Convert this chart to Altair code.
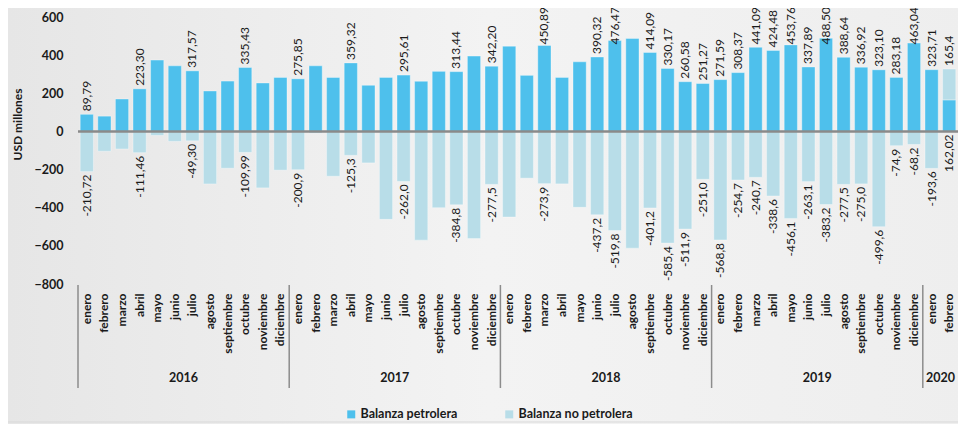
import altair as alt
import pandas as pd

MESES = ["enero", "febrero", "marzo", "abril", "mayo", "junio", "julio",
         "agosto", "septiembre", "octubre", "noviembre", "diciembre"]
ANIOS = [2016, 2017, 2018, 2019, 2020]
N_MESES = [12, 12, 12, 12, 2]

SERIES = ["Balanza petrolera", "Balanza no petrolera"]
COLORES = ["#4EC0EC", "#B8DDE8"]

PETRO = [
    89.79, 80, 170, 223.30, 374, 344, 317.57, 212, 264, 335.43, 254, 283,
    275.85, 344, 283, 359.32, 242, 283, 295.61, 263, 315, 313.44, 395, 342.20,
    447, 294, 450.89, 283, 365, 390.32, 476.47, 487, 414.09, 330.17, 260.58, 251.27,
    271.59, 308.37, 441.09, 424.48, 453.76, 337.89, 488.50, 388.64, 336.92, 323.10, 283.18, 463.04,
    323.71, 165.4,
]
NO_PETRO = [
    -210.72, -104, -92, -111.46, -21, -52, -49.30, -275, -193, -109.99, -296, -203,
    -200.9, -9, -235, -125.3, -165, -461, -262.0, -570, -400, -384.8, -562, -277.5,
    -449, -245, -273.9, -275, -398, -437.2, -519.8, -612, -401.2, -585.4, -511.9, -251.0,
    -568.8, -254.7, -240.7, -338.6, -456.1, -263.1, -383.2, -277.5, -275.0, -499.6, -74.9, -68.2,
    -193.6, 162.02,
]
PETRO_LBL = [
    "89,79", None, None, "223,30", None, None, "317,57", None, None, "335,43", None, None,
    "275,85", None, None, "359,32", None, None, "295,61", None, None, "313,44", None, "342,20",
    None, None, "450,89", None, None, "390,32", "476,47", None, "414,09", "330,17", "260,58", "251,27",
    "271,59", "308,37", "441,09", "424,48", "453,76", "337,89", "488,50", "388,64", "336,92", "323,10", "283,18", "463,04",
    "323,71", "165,4",
]
NO_PETRO_LBL = [
    "-210,72", None, None, "-111,46", None, None, "-49,30", None, None, "-109,99", None, None,
    "-200,9", None, None, "-125,3", None, None, "-262,0", None, None, "-384,8", None, "-277,5",
    None, None, "-273,9", None, None, "-437,2", "-519,8", None, "-401,2", "-585,4", "-511,9", "-251,0",
    "-568,8", "-254,7", "-240,7", "-338,6", "-456,1", "-263,1", "-383,2", "-277,5", "-275,0", "-499,6", "-74,9", "-68,2",
    "-193,6", "162,02",
]

# ---- build tables ----
claves = []
for anio, n in zip(ANIOS, N_MESES):
    for m in MESES[:n]:
        claves.append(f"{m} {anio}")

rows = []
for i, c in enumerate(claves):
    rows.append({"clave": c, "serie": SERIES[0], "valor": PETRO[i], "orden": 0})
    rows.append({"clave": c, "serie": SERIES[1], "valor": NO_PETRO[i], "orden": 1})
df = pd.DataFrame(rows)

TOPE = 440  # keep top labels inside the picture
lbl_p = pd.DataFrame([
    {"clave": c, "texto": PETRO_LBL[i],
     "anc": min(PETRO[i] + max(NO_PETRO[i], 0), TOPE)}
    for i, c in enumerate(claves) if PETRO_LBL[i]
])
lbl_n = pd.DataFrame([
    {"clave": c, "texto": NO_PETRO_LBL[i], "anc": min(NO_PETRO[i], 0)}
    for i, c in enumerate(claves) if NO_PETRO_LBL[i]
])

sep = pd.DataFrame([{"clave": f"enero {a}"} for a in ANIOS])
anios_df = pd.DataFrame([
    {"anio": str(a), "clave": f"{MESES[n // 2 - 1]} {a}"} for a, n in zip(ANIOS, N_MESES)
])

W, H = 880, 267
FONT = "Lato"
TXT = "#1a1a1a"

xs = alt.Scale(paddingInner=0, paddingOuter=0)
ys = alt.Scale(domain=[-800, 600], nice=False)

x_axis = alt.Axis(labelExpr="split(datum.value, ' ')[0]", labelAngle=270,
                  labelAlign="right", labelBaseline="middle", labelPadding=9,
                  ticks=False, domain=False, labelOverlap=False, zindex=2,
                  labelFont=FONT, labelFontSize=12, labelFontWeight="bold",
                  labelColor=TXT)
y_axis = alt.Axis(values=[-800, -600, -400, -200, 0, 200, 400, 600],
                  grid=False, ticks=False, domain=False, labelPadding=15, zindex=2,
                  labelFont=FONT, labelFontSize=12.5, labelFontWeight="bold",
                  labelColor=TXT, titleFont=FONT, titleFontSize=12,
                  titleFontWeight="bold", titleColor=TXT, titleAngle=270,
                  titleX=-61, titleY=107, titleAlign="center",
                  titleBaseline="middle")


def mk_x(band=None):
    if band is None:
        return alt.X("clave:N", sort=claves, scale=xs, title=None, axis=x_axis)
    return alt.X("clave:N", sort=claves, scale=xs, title=None, axis=x_axis,
                 bandPosition=band)


def mk_y(field, **kw):
    return alt.Y(f"{field}:Q", scale=ys, title="USD millones", axis=y_axis, **kw)


fondo = alt.Chart(pd.DataFrame({"a": [0]})).mark_rect(
    color=alt.Gradient(
        gradient="linear",
        stops=[alt.GradientStop(color="#e6e6e6", offset=0),
               alt.GradientStop(color="#f3f3f3", offset=0.5),
               alt.GradientStop(color="#eeeeee", offset=1)],
        x1=0, x2=1, y1=0, y2=0,
    )
).encode(x=alt.value(-70), x2=alt.value(W + 10), y=alt.value(-9), y2=alt.value(H + 140))

barras = alt.Chart(df).mark_bar(
    width=alt.RelativeBandSize(0.75), stroke="white", strokeOpacity=0.35, strokeWidth=1
).encode(
    x=mk_x(),
    y=mk_y("valor", stack="zero"),
    color=alt.Color("serie:N", scale=alt.Scale(domain=SERIES, range=COLORES),
                    legend=alt.Legend(orient="none", legendX=267, legendY=391,
                                      direction="horizontal", title=None,
                                      symbolType="square", symbolSize=64,
                                      symbolStrokeWidth=0, labelFont=FONT,
                                      labelFontSize=12.5, labelFontWeight="bold",
                                      labelColor=TXT, columnPadding=45, labelOffset=3,
                                      zindex=2)),
    order=alt.Order("orden:Q"),
)

cero = alt.Chart(pd.DataFrame({"y": [0]})).mark_rule(color="#8a8a8a", strokeWidth=2.5).encode(
    y=mk_y("y"), x=alt.value(0), x2=alt.value(W)
)

etq_p = alt.Chart(lbl_p).mark_text(
    angle=270, align="left", baseline="middle", dx=3, font=FONT, fontSize=12, color=TXT
).encode(x=mk_x(), y=mk_y("anc"), text="texto:N")

etq_n = alt.Chart(lbl_n).mark_text(
    angle=270, align="right", baseline="middle", dx=-3, font=FONT, fontSize=12, color=TXT
).encode(x=mk_x(), y=mk_y("anc"), text="texto:N")

separadores = alt.Chart(sep).mark_rule(color="#8c8c8c", strokeWidth=1.5).encode(
    x=mk_x(0), y=alt.value(H + 1), y2=alt.value(H + 104),
)

anios = alt.Chart(anios_df).mark_text(
    font=FONT, fontSize=12.5, fontWeight="bold", color=TXT, baseline="middle"
).encode(x=mk_x(1), y=alt.value(H + 94), text="anio:N")

borde = alt.Chart(pd.DataFrame({"a": [0]})).mark_rule(color="#d9d9d9", strokeWidth=1).encode(
    x=alt.value(-70), x2=alt.value(W + 10), y=alt.value(H + 138)
)

chart = alt.layer(fondo, barras, cero, etq_p, etq_n, separadores, anios, borde).properties(
    width=W, height=H,
    padding={"left": 70, "top": 9, "right": 0, "bottom": 140},
    autosize=alt.AutoSizeParams(type="none"),
    background="#efefef",
).configure_view(stroke=None)

chart.save("out.html", embed_options={"renderer": "svg", "actions": False})
